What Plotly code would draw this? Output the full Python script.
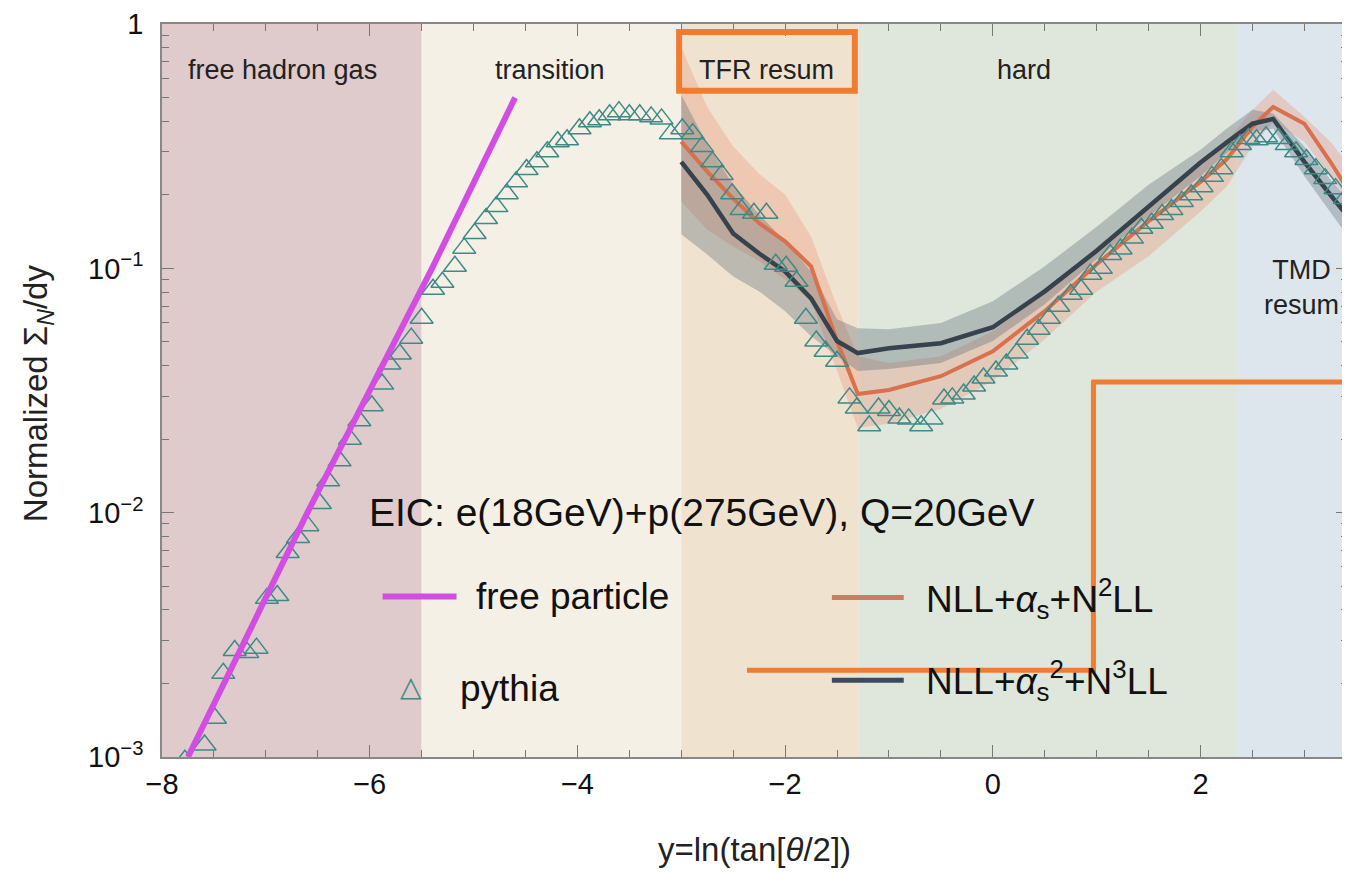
import plotly.graph_objects as go

# ---------------- data ----------------
region_edges = [-8.0, -5.5, -3.0, -1.29, 2.35, 3.42]
region_colors = ["#dfcacc", "#f4f0e5", "#efe3d0", "#dfe6dc", "#dde6ec"]
region_labels = ["free hadron gas", "transition", "TFR resum", "hard", "TMD<br>resum"]
region_label_x = [-6.84, -4.26, -2.18, 0.30, 2.97]
region_label_y = [0.937, 0.937, 0.937, 0.937, 0.641]

free_x = [-7.75, -6.6, -5.4, -4.6]
free_y = [0.001, 0.01, 0.1, 0.5]

pythia_x = [-7.78, -7.59, -7.49, -7.41, -7.30, -7.18, -7.09, -6.99, -6.89, -6.79,
            -6.69, -6.60, -6.48, -6.40, -6.29, -6.19, -6.10, -5.98, -5.88, -5.81,
            -5.71, -5.60, -5.50, -5.39, -5.30, -5.18, -5.09, -4.99, -4.88, -4.78,
            -4.68, -4.59, -4.49, -4.39, -4.29, -4.19, -4.10, -3.98, -3.88, -3.79,
            -3.69, -3.60, -3.50, -3.40, -3.29, -3.19, -3.10, -2.99, -2.89, -2.80,
            -2.70, -2.61, -2.51, -2.42, -2.30, -2.18, -2.09, -1.99, -1.89, -1.80,
            -1.70, -1.61, -1.50, -1.38, -1.31, -1.19, -1.10, -1.00, -0.90, -0.81,
            -0.69, -0.59, -0.47, -0.39, -0.28, -0.18, -0.09, 0.03, 0.13, 0.23,
            0.33, 0.44, 0.54, 0.63, 0.75, 0.85, 0.94, 1.04, 1.13, 1.23,
            1.34, 1.43, 1.53, 1.63, 1.72, 1.82, 1.91, 2.01, 2.11, 2.20,
            2.30, 2.38, 2.46, 2.54, 2.63, 2.75, 2.83, 2.92, 3.02, 3.11,
            3.20, 3.30, 3.39]
pythia_y = [0.00097, 0.00112, 0.00144, 0.00220, 0.00273, 0.00268, 0.00279, 0.00446, 0.00458, 0.00687,
            0.00791, 0.00885, 0.0109, 0.0135, 0.0163, 0.0200, 0.0238, 0.0274, 0.0336, 0.0406,
            0.0446, 0.0518, 0.0625, 0.0821, 0.0877, 0.102, 0.121, 0.139, 0.160, 0.179,
            0.202, 0.226, 0.254, 0.273, 0.300, 0.330, 0.336, 0.373, 0.398, 0.406,
            0.425, 0.438, 0.425, 0.425, 0.417, 0.409, 0.356, 0.373, 0.356, 0.315,
            0.273, 0.242, 0.202, 0.174, 0.168, 0.168, 0.104, 0.102, 0.0885, 0.0625,
            0.0504, 0.0458, 0.0417, 0.0295, 0.0268, 0.0227, 0.0268, 0.0262, 0.0244, 0.0242,
            0.0227, 0.0242, 0.0292, 0.0295, 0.0306, 0.0330, 0.0356, 0.0380, 0.0406, 0.0450,
            0.0513, 0.0564, 0.0625, 0.0700, 0.0783, 0.0821, 0.0946, 0.100, 0.114, 0.120,
            0.133, 0.146, 0.153, 0.166, 0.174, 0.188, 0.200, 0.216, 0.238, 0.256,
            0.300, 0.321, 0.340, 0.336, 0.346, 0.340, 0.321, 0.300, 0.279, 0.256,
            0.233, 0.212, 0.193]

theory_x = [-3.0, -2.75, -2.5, -2.25, -2.0, -1.75, -1.5, -1.3, -1.0, -0.5, 0.0,
            0.5, 1.0, 1.5, 2.0, 2.25, 2.5, 2.7, 3.0, 3.25, 3.42]
n3ll = [0.273, 0.200, 0.139, 0.115, 0.0972, 0.0754, 0.0504, 0.0450, 0.0471, 0.0494, 0.0574,
        0.0805, 0.118, 0.179, 0.271, 0.327, 0.391, 0.409, 0.273, 0.200, 0.163]
n3ll_hi = [0.513, 0.321, 0.220, 0.166, 0.129, 0.0972, 0.0619, 0.0569, 0.0564, 0.0597, 0.0733,
           0.102, 0.148, 0.220, 0.306, 0.373, 0.446, 0.430, 0.315, 0.231, 0.191]
n3ll_lo = [0.138, 0.114, 0.0927, 0.0805, 0.0668, 0.0528, 0.0437, 0.0380, 0.0387, 0.0410, 0.0504,
           0.0713, 0.109, 0.163, 0.238, 0.295, 0.362, 0.373, 0.238, 0.171, 0.135]
n2ll = [0.330, 0.249, 0.193, 0.153, 0.129, 0.102, 0.0504, 0.0306, 0.0318, 0.0362, 0.0458,
        0.0668, 0.104, 0.156, 0.226, 0.279, 0.380, 0.458, 0.391, 0.273, 0.210]
n2ll_hi = [0.805, 0.458, 0.315, 0.244, 0.200, 0.135, 0.0700, 0.0437, 0.0410, 0.0437, 0.0553,
           0.0805, 0.123, 0.179, 0.273, 0.330, 0.446, 0.538, 0.417, 0.330, 0.268]
n2ll_lo = [0.188, 0.144, 0.123, 0.107, 0.0902, 0.0733, 0.0380, 0.0222, 0.0231, 0.0266, 0.0346,
           0.0513, 0.0805, 0.112, 0.171, 0.216, 0.315, 0.398, 0.330, 0.238, 0.188]

x_ticks = [-8, -6, -4, -2, 0, 2]
x_ticktext = ["\u22128", "\u22126", "\u22124", "\u22122", "0", "2"]
y_ticks = [0.001, 0.01, 0.1, 1]
y_ticktext = ["10<sup>\u22123</sup>", "10<sup>\u22122</sup>", "10<sup>\u22121</sup>", "1"]
y_minor_ticks = [m * d for d in (0.001, 0.01, 0.1) for m in range(2, 10)]

# ---------------- colours ----------------
MAGENTA = "#d24ee2"
TEAL = "#3f8a86"
ORANGE = "#d8714c"
DARK = "#36424c"
ANNOT = "#ee7d31"
FONT = "Liberation Sans, Arial, sans-serif"

fig = go.Figure()

# background regions
for i, col in enumerate(region_colors):
    fig.add_shape(type="rect", xref="x", yref="paper",
                  x0=region_edges[i], x1=region_edges[i + 1], y0=0, y1=1,
                  fillcolor=col, line_width=0, layer="below")

# NLL+as+N2LL band
fig.add_trace(go.Scatter(x=theory_x, y=n2ll_hi, mode="lines", line=dict(width=0),
                         hoverinfo="skip", showlegend=False))
fig.add_trace(go.Scatter(x=theory_x, y=n2ll_lo, mode="lines", line=dict(width=0),
                         fill="tonexty", fillcolor="rgba(236,140,110,0.30)",
                         hoverinfo="skip", showlegend=False))
# NLL+as2+N3LL band
fig.add_trace(go.Scatter(x=theory_x, y=n3ll_hi, mode="lines", line=dict(width=0),
                         hoverinfo="skip", showlegend=False))
fig.add_trace(go.Scatter(x=theory_x, y=n3ll_lo, mode="lines", line=dict(width=0),
                         fill="tonexty", fillcolor="rgba(85,100,112,0.33)",
                         hoverinfo="skip", showlegend=False))

fig.add_trace(go.Scatter(x=theory_x, y=n2ll, mode="lines",
                         line=dict(color=ORANGE, width=4), name="NLL+as+N2LL", showlegend=False))
fig.add_trace(go.Scatter(x=theory_x, y=n3ll, mode="lines",
                         line=dict(color=DARK, width=4.5), name="NLL+as2+N3LL", showlegend=False))

fig.add_trace(go.Scatter(x=pythia_x, y=pythia_y, mode="markers", name="pythia",
                         marker=dict(symbol="triangle-up-open", size=20, color=TEAL,
                                     line=dict(width=1.5, color=TEAL)),
                         showlegend=False))

fig.add_trace(go.Scatter(x=free_x, y=free_y, mode="lines", name="free particle",
                         line=dict(color=MAGENTA, width=6), showlegend=False))

# ---------------- axes ----------------
fig.update_xaxes(range=[region_edges[0], region_edges[-1]], tickvals=x_ticks, ticktext=x_ticktext,
                 ticks="inside", ticklen=12, tickwidth=1.2, tickcolor="#777",
                 minor=dict(dtick=0.5, ticks="inside", ticklen=7, tickcolor="#777", showgrid=False),
                 showline=True, linecolor="#888", linewidth=1.5, mirror="ticks",
                 showgrid=False, zeroline=False, ticklabeloverflow="allow",
                 tickfont=dict(family=FONT, size=29, color="#111"), ticklabelstandoff=0)
fig.update_yaxes(type="log", range=[-3, 0.0002], tickvals=y_ticks, ticktext=y_ticktext,
                 ticks="inside", ticklen=12, tickwidth=1.2, tickcolor="#777",
                 minor=dict(tickmode="array", tickvals=y_minor_ticks, ticks="inside", ticklen=7,
                            tickcolor="#777", showgrid=False),
                 showline=True, linecolor="#888", linewidth=1.5, mirror="ticks",
                 showgrid=False, zeroline=False, ticklabeloverflow="allow",
                 tickfont=dict(family=FONT, size=29, color="#111"), ticklabelstandoff=11)

# page body has an 8px margin: plot area spans screen x 162..1350, y 22..757
OFF = 8
SL, ST, SR, SB = 162, 22, 1350, 757
W, H = 1350 - OFF, 875 - OFF
L, T = SL - OFF, ST - OFF
PW, PH = SR - SL, SB - ST
R = W - L - PW
B = H - T - PH


def px(xs):
    return (xs - SL) / PW


def py(ys):
    return (SB - ys) / PH


anns = []
for lab, lx, ly in zip(region_labels, region_label_x, region_label_y):
    anns.append(dict(x=lx, y=ly, xref="x", yref="paper", text=lab, showarrow=False,
                     font=dict(family=FONT, size=27, color="#222"), xanchor="center", yanchor="middle"))

anns.append(dict(x=px(367), y=py(512), xref="paper", yref="paper",
                 text="EIC: e(18GeV)+p(275GeV), Q=20GeV", showarrow=False,
                 font=dict(family=FONT, size=39, color="#111"), xanchor="left", yanchor="middle"))

# legend texts
LEG = 37
anns.append(dict(x=px(475), y=py(596), xref="paper", yref="paper", text="free particle",
                 showarrow=False, font=dict(family=FONT, size=LEG, color="#111"),
                 xanchor="left", yanchor="middle"))
anns.append(dict(x=px(458), y=py(688), xref="paper", yref="paper", text="pythia",
                 showarrow=False, font=dict(family=FONT, size=LEG, color="#111"),
                 xanchor="left", yanchor="middle"))
anns.append(dict(x=px(411), y=py(686), xref="paper", yref="paper", text="\u25b3",
                 showarrow=False, font=dict(family="DejaVu Sans", size=28, color=TEAL),
                 xanchor="center", yanchor="middle"))
anns.append(dict(x=px(925), y=py(598), xref="paper", yref="paper",
                 text="NLL+<i>\u03b1</i><sub>s</sub>+N<sup>2</sup>LL",
                 showarrow=False, font=dict(family=FONT, size=LEG, color="#111"),
                 xanchor="left", yanchor="middle"))
anns.append(dict(x=px(925), y=py(680), xref="paper", yref="paper",
                 text="NLL+<i>\u03b1</i><sub>s</sub><sup>2</sup>+N<sup>3</sup>LL",
                 showarrow=False, font=dict(family=FONT, size=LEG, color="#111"),
                 xanchor="left", yanchor="middle"))

# axis titles
anns.append(dict(x=px(755), y=py(850), xref="paper", yref="paper",
                 text="y=ln(tan[<i>\u03b8</i>/2])", showarrow=False,
                 font=dict(family=FONT, size=33, color="#222"), xanchor="center", yanchor="middle"))
anns.append(dict(x=px(38), y=py(392), xref="paper", yref="paper",
                 text="Normalized \u03a3<sub><i>N</i></sub>/dy", showarrow=False, textangle=-90,
                 font=dict(family=FONT, size=33, color="#222"), xanchor="center", yanchor="middle"))

shapes = []
# legend key lines
shapes.append(dict(type="line", xref="paper", yref="paper", x0=px(383), x1=px(457),
                   y0=py(596), y1=py(596), line=dict(color=MAGENTA, width=6)))
shapes.append(dict(type="line", xref="paper", yref="paper", x0=px(833), x1=px(905),
                   y0=py(597), y1=py(597), line=dict(color="#cf7a66", width=5)))
shapes.append(dict(type="line", xref="paper", yref="paper", x0=px(833), x1=px(905),
                   y0=py(680), y1=py(680), line=dict(color="#3e4a58", width=5)))
# orange highlight overlays
shapes.append(dict(type="rect", xref="paper", yref="paper", x0=px(680), x1=px(856),
                   y0=py(89), y1=py(30), line=dict(color=ANNOT, width=6), fillcolor="rgba(0,0,0,0)"))
shapes.append(dict(type="line", xref="paper", yref="paper", x0=px(1095), x1=px(1095),
                   y0=py(380), y1=py(672), line=dict(color=ANNOT, width=5)))
shapes.append(dict(type="line", xref="paper", yref="paper", x0=px(1093), x1=px(1350),
                   y0=py(381), y1=py(381), line=dict(color=ANNOT, width=5)))
shapes.append(dict(type="line", xref="paper", yref="paper", x0=px(748), x1=px(1097),
                   y0=py(670), y1=py(670), line=dict(color=ANNOT, width=5)))

fig.update_layout(width=W, height=H, margin=dict(l=L, r=R, t=T, b=B),
                  paper_bgcolor="white", plot_bgcolor="white",
                  annotations=anns, shapes=fig.layout.shapes + tuple(shapes),
                  showlegend=False)

fig.write_html("out.html")
